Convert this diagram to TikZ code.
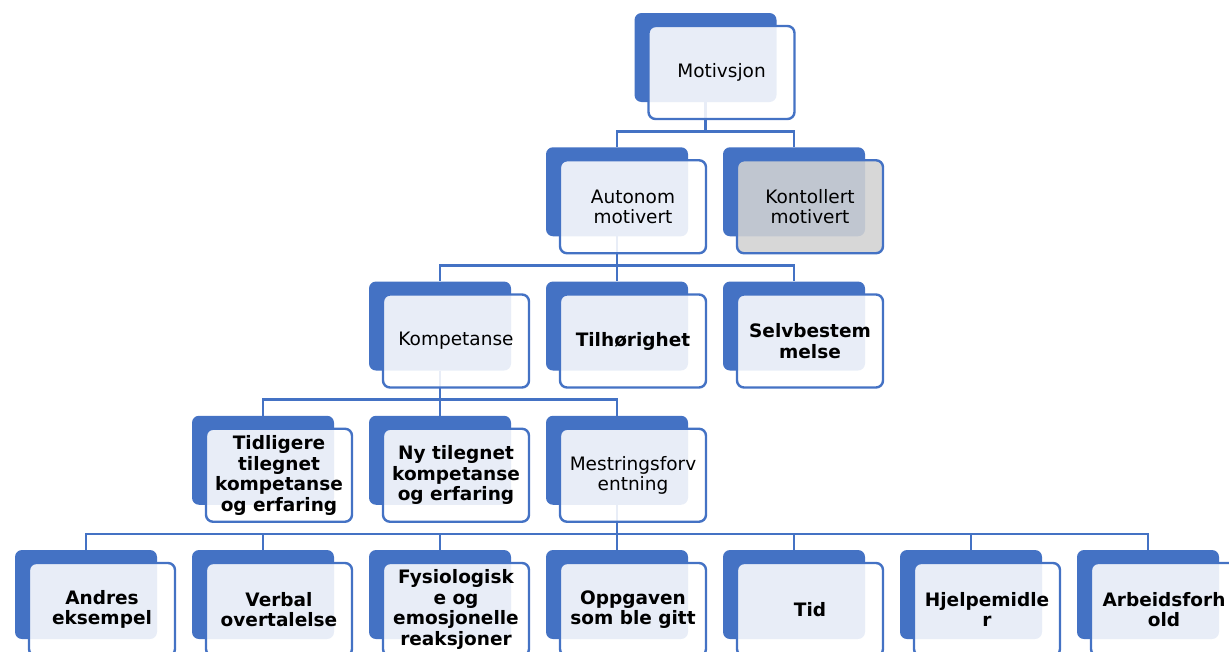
\documentclass[tikz,border=0pt]{standalone}
\usepackage{fontspec}
\setmainfont{DejaVu Sans}
\definecolor{boxblue}{RGB}{68,114,196}
\definecolor{boxgray}{RGB}{210,210,210}
\tikzset{
  back/.style={fill=boxblue, rounded corners=7pt, minimum width=142pt,
    minimum height=89pt, inner sep=0pt},
  front/.style={draw=boxblue, line width=2.4pt, fill=white, fill opacity=0.88,
    text opacity=1, rounded corners=7pt, minimum width=146pt,
    minimum height=93pt, inner sep=0pt, align=center,
    font=\fontsize{18.5}{20.5}\selectfont},
  grayfront/.style={front, fill=boxgray},
  boldtext/.style={font=\fontsize{18.5}{20.5}\selectfont\bfseries},
  link/.style={draw=boxblue, line width=2.6pt}
}
\begin{document}
\begin{tikzpicture}[x=1pt, y=-1pt]
      \useasboundingbox (0,0) rectangle (1229,651);
      \path
        (705.5,57.5) node[back] (motb){}
        (617,191.75) node[back] (autb){}
        (794,191.75) node[back] (konb){}
        (440,326) node[back] (kompb){}
        (617,326) node[back] (tilb){}
        (794,326) node[back] (selvb){}
        (263,460.25) node[back] (tidlb){}
        (440,460.25) node[back] (nyb){}
        (617,460.25) node[back] (mestb){}
        (86,594.5) node[back] (andb){}
        (263,594.5) node[back] (verbb){}
        (440,594.5) node[back] (fysb){}
        (617,594.5) node[back] (oppb){}
        (794,594.5) node[back] (tidb){}
        (971,594.5) node[back] (hjelpb){}
        (1148,594.5) node[back] (arbb){};
      \begin{scope}[link]
        \draw (motb.south) -- ++(0,29) -| (autb.north);
        \draw (motb.south) -- ++(0,29) -| (konb.north);
        \draw (autb.south) -- ++(0,29) -| (kompb.north);
        \draw (autb.south) -- ++(0,29) -| (tilb.north);
        \draw (autb.south) -- ++(0,29) -| (selvb.north);
        \draw (kompb.south) -- ++(0,29) -| (tidlb.north);
        \draw (kompb.south) -- ++(0,29) -| (nyb.north);
        \draw (kompb.south) -- ++(0,29) -| (mestb.north);
        \draw (mestb.south) -- ++(0,29) -| (andb.north);
        \draw (mestb.south) -- ++(0,29) -| (verbb.north);
        \draw (mestb.south) -- ++(0,29) -| (fysb.north);
        \draw (mestb.south) -- ++(0,29) -| (oppb.north);
        \draw (mestb.south) -- ++(0,29) -| (tidb.north);
        \draw (mestb.south) -- ++(0,29) -| (hjelpb.north);
        \draw (mestb.south) -- ++(0,29) -| (arbb.north);
      \end{scope}
      \node[front] (mot) at ([shift={(16,15)}]motb) {Motivsjon};
      \node[front] (aut) at ([shift={(16,15)}]autb) {Autonom\\motivert};
      \node[grayfront] (kon) at ([shift={(16,15)}]konb) {Kontollert\\motivert};
      \node[front] (komp) at ([shift={(16,15)}]kompb) {Kompetanse};
      \node[front, boldtext] (til) at ([shift={(16,15)}]tilb) {Tilhørighet};
      \node[front, boldtext] (selv) at ([shift={(16,15)}]selvb) {Selvbestem\\melse};
      \node[front, boldtext] (tidl) at ([shift={(16,15)}]tidlb) {Tidligere\\tilegnet\\kompetanse\\og erfaring};
      \node[front, boldtext] (ny) at ([shift={(16,15)}]nyb) {Ny tilegnet\\kompetanse\\og erfaring};
      \node[front] (mest) at ([shift={(16,15)}]mestb) {Mestringsforv\\entning};
      \node[front, boldtext] (and) at ([shift={(16,15)}]andb) {Andres\\eksempel};
      \node[front, boldtext] (verb) at ([shift={(16,15)}]verbb) {Verbal\\overtalelse};
      \node[front, boldtext] (fys) at ([shift={(16,15)}]fysb) {Fysiologisk\\e og\\emosjonelle\\reaksjoner};
      \node[front, boldtext] (opp) at ([shift={(16,15)}]oppb) {Oppgaven\\som ble gitt};
      \node[front, boldtext] (tid) at ([shift={(16,15)}]tidb) {Tid};
      \node[front, boldtext] (hjelp) at ([shift={(16,15)}]hjelpb) {Hjelpemidle\\r};
      \node[front, boldtext] (arb) at ([shift={(16,15)}]arbb) {Arbeidsforh\\old};
    \end{tikzpicture}
\end{document}
